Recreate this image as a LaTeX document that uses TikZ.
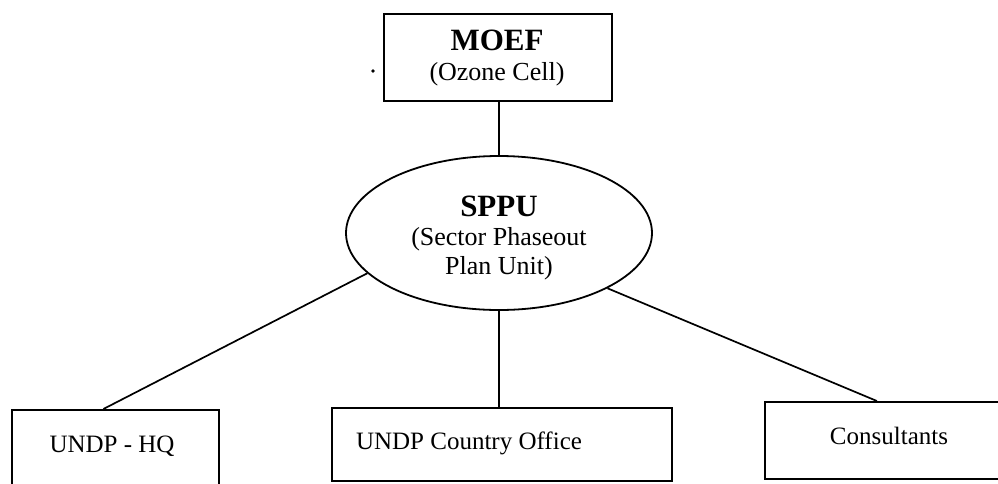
\documentclass[tikz,border=0pt]{standalone}
\usepackage{fontspec}
\setmainfont{Liberation Serif}
\usetikzlibrary{shapes.geometric}
\begin{document}
\begin{tikzpicture}[x=1pt,y=-1pt,
  box/.style={draw=black,line width=1.8pt,rectangle,inner sep=0pt,anchor=north west},
  link/.style={draw=black,line width=1.7pt},
  lbl/.style={font=\fontsize{25}{28}\selectfont}]
\useasboundingbox (0,0) rectangle (998,483);
\clip (0,0) rectangle (998,483);
% MOEF
\node[box,minimum width=228pt,minimum height=87pt] (moef) at (383,13) {};
\node[align=center,font=\fontsize{26}{30}\selectfont,inner sep=0pt] (moeft) at (497,58)
  {\textbf{\fontsize{31}{30}\selectfont MOEF}\\(Ozone Cell)};
% SPPU
\node[draw=black,line width=1.8pt,ellipse,minimum width=306pt,minimum height=154pt,inner sep=0pt] (sppu) at (499,233) {};
\node[align=center,font=\fontsize{26}{29}\selectfont,inner sep=0pt] (sppt) at (499,238)
  {\textbf{\fontsize{31}{30}\selectfont SPPU}\\(Sector Phaseout\\Plan Unit)};
% bottom boxes
\node[box,minimum width=207pt,minimum height=100pt] (hq) at (11,409) {};
\node[lbl,inner sep=0pt] (hqt) at (112,446) {UNDP - HQ};
\node[box,minimum width=340pt,minimum height=73pt] (cof) at (331,407) {};
\node[lbl,inner sep=0pt] (coft) at (469,443) {UNDP Country Office};
\node[box,minimum width=260pt,minimum height=77pt] (cons) at (764,401) {};
\node[lbl,inner sep=0pt] (const) at (889,436) {Consultants};
% connectors
\draw[link] (moef.south -| sppu.north) -- (sppu.north);
\draw[link] (sppu.south) -- (sppu.south |- cof.north);
\draw[link] (sppu.197) -- ([xshift=-12pt]hq.north);
\draw[link] (sppu.333) -- ([xshift=-18pt]cons.north);
% stray dot
\fill (373,71) circle (1.8pt);
\end{tikzpicture}
\end{document}
